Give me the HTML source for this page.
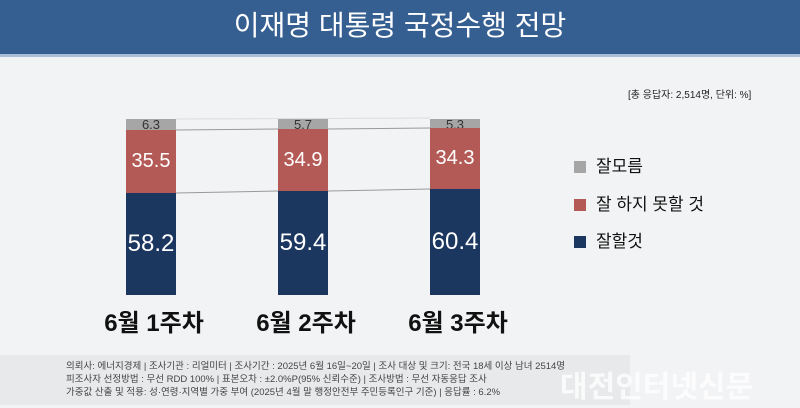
<!DOCTYPE html>
<html><head><meta charset="utf-8"><style>
html,body{margin:0;width:800px;height:408px;overflow:hidden}
body{background:#f2f3f5;font-family:"Liberation Sans","Noto Sans CJK KR",sans-serif;position:relative}
.hd{position:absolute;left:0;top:0;width:800px;height:54px;background:#365f91;border-bottom:3px solid #a9bdd6;color:#fff;font-size:28px;text-align:center;line-height:52px}
.a{position:absolute}
.bar{position:absolute;width:50px;color:#fff;text-align:center;font-size:20px}
.g{background:#a6a6a6;color:#333;font-size:13px;line-height:12px}
.r{background:#b35a57}
.b{background:#1b365f;font-size:24px}
.lab{position:absolute;font-size:24px;font-weight:bold;color:#111;width:140px;text-align:center;top:303px}
.lg{position:absolute;left:574px;font-size:17px;color:#111}
.lg span{display:inline-block;width:12px;height:12px;margin-right:10px;vertical-align:-1px}
.ft{position:absolute;left:0;top:355px;width:630px;height:50px;background:#e8e9eb;font-size:9.5px;color:#444;line-height:13px;padding:5px 0 0 66px;box-sizing:border-box;white-space:nowrap;overflow:hidden}
</style></head><body>
<div class="hd">이재명 대통령 국정수행 전망</div>
<div class="a" style="left:628px;top:86px;font-size:10px;color:#222">[총 응답자: 2,514명, 단위: %]</div>
<svg class="a" style="left:0;top:0" width="800" height="408"><line x1="176" y1="130" x2="278" y2="129" stroke="#999"/><line x1="328" y1="129" x2="430" y2="128" stroke="#999"/><line x1="176" y1="193" x2="278" y2="191" stroke="#999"/><line x1="328" y1="191" x2="430" y2="189" stroke="#999"/><line x1="176" y1="119" x2="430" y2="118" stroke="#ddd"/></svg>
<div class="bar g" style="left:126px;top:119px;height:11px">6.3</div>
<div class="bar r" style="left:126px;top:130px;height:63px;line-height:63px">35.5</div>
<div class="bar b" style="left:126px;top:193px;height:102px;line-height:102px">58.2</div>
<div class="bar g" style="left:278px;top:119px;height:10px">5.7</div>
<div class="bar r" style="left:278px;top:129px;height:62px;line-height:62px">34.9</div>
<div class="bar b" style="left:278px;top:191px;height:104px;line-height:104px">59.4</div>
<div class="bar g" style="left:430px;top:119px;height:9px">5.3</div>
<div class="bar r" style="left:430px;top:128px;height:61px;line-height:61px">34.3</div>
<div class="bar b" style="left:430px;top:189px;height:106px;line-height:106px">60.4</div>
<div class="lab" style="left:84px">6월 1주차</div>
<div class="lab" style="left:236px">6월 2주차</div>
<div class="lab" style="left:388px">6월 3주차</div>
<div class="lg" style="top:152px"><span style="background:#a6a6a6"></span>잘모름</div>
<div class="lg" style="top:190px"><span style="background:#b35a57"></span>잘 하지 못할 것</div>
<div class="lg" style="top:227px"><span style="background:#1b365f"></span>잘할것</div>
<div class="ft">의뢰사: 에너지경제 | 조사기관 : 리얼미터 | 조사기간 : 2025년 6월 16일~20일 | 조사 대상 및 크기: 전국 18세 이상 남녀 2514명<br>피조사자 선정방법 : 무선 RDD 100% | 표본오차 : ±2.0%P(95% 신뢰수준) | 조사방법 : 무선 자동응답 조사<br>가중값 산출 및 적용: 성·연령·지역별 가중 부여 (2025년 4월 말 행정안전부 주민등록인구 기준) | 응답률 : 6.2%</div>
<div class="a" style="left:560px;top:362px;font-size:30px;font-weight:bold;color:rgba(255,255,255,0.75);white-space:nowrap">대전인터넷신문</div>
</body></html>
